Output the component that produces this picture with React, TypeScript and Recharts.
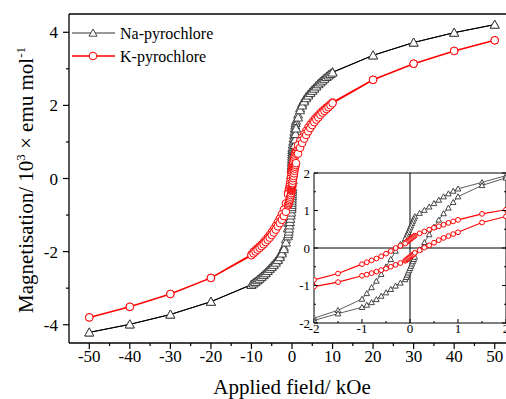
import React from "react";
import { LineChart, Line, XAxis, YAxis, ReferenceLine } from "recharts";

const SERIF = '"Liberation Serif", "Times New Roman", serif';

// field steps of the descending sweep (kOe); the ascending sweep runs back the other way
const fieldDown = [
  50, 40, 30, 20, 10, 9.5, 9, 8.5, 8, 7.5, 7, 6.5, 6, 5.5, 5, 4.5, 4, 3.5, 3, 2.5, 2, 1.5,
  1, 0.9, 0.8, 0.7, 0.6, 0.5, 0.4, 0.3, 0.2, 0.1, 0.08, 0.06, 0.04, 0.02, 0, -0.02, -0.04,
  -0.06, -0.08, -0.1, -0.2, -0.3, -0.4, -0.5, -0.6, -0.7, -0.8, -0.9, -1, -1.5, -2, -2.5,
  -3, -3.5, -4, -4.5, -5, -5.5, -6, -6.5, -7, -7.5, -8, -8.5, -9, -9.5, -10, -20, -30, -40, -50,
];
const fieldUp = [...fieldDown].reverse();

// magnetisation, 10^3 emu/mol
const naDown = [
  4.21, 3.99, 3.72, 3.37, 2.91, 2.87, 2.83, 2.78, 2.74, 2.69, 2.64, 2.59, 2.53, 2.47, 2.42, 2.36, 2.3, 2.23, 2.15, 2.05, 1.93, 1.75,
  1.58, 1.52, 1.45, 1.37, 1.28, 1.19, 1.1, 1.01, 0.93, 0.84, 0.78, 0.72, 0.66, 0.6, 0.54, 0.48, 0.42,
  0.36, 0.31, 0.25, 0.1, -0.08, -0.3, -0.5, -0.7, -0.88, -1.05, -1.21, -1.36, -1.66, -1.87, -2.0,
  -2.11, -2.2, -2.27, -2.34, -2.4, -2.46, -2.52, -2.58, -2.63, -2.68, -2.73, -2.78, -2.82, -2.86, -2.9, -3.37, -3.72, -3.99, -4.21,
];
const naUp = [
  -4.21, -3.99, -3.72, -3.37, -2.91, -2.87, -2.83, -2.78, -2.74, -2.69, -2.64, -2.59, -2.53, -2.47, -2.42, -2.36, -2.3, -2.23, -2.15, -2.05, -1.93, -1.75,
  -1.58, -1.52, -1.45, -1.37, -1.28, -1.19, -1.1, -1.01, -0.93, -0.84, -0.78, -0.72, -0.66, -0.6, -0.54, -0.48, -0.42,
  -0.36, -0.3, -0.24, -0.04, 0.15, 0.36, 0.56, 0.75, 0.92, 1.07, 1.22, 1.37, 1.67, 1.87, 2.0,
  2.11, 2.2, 2.27, 2.34, 2.4, 2.46, 2.52, 2.58, 2.63, 2.68, 2.73, 2.78, 2.82, 2.86, 2.9, 3.37, 3.72, 3.99, 4.21,
];
const kDown = [
  3.78, 3.49, 3.14, 2.7, 2.08, 2.03, 1.98, 1.94, 1.89, 1.84, 1.79, 1.73, 1.67, 1.61, 1.54, 1.47, 1.39, 1.3, 1.21, 1.12, 1.02, 0.91,
  0.75, 0.71, 0.67, 0.62, 0.58, 0.54, 0.49, 0.44, 0.39, 0.33, 0.31, 0.29, 0.27, 0.25, 0.23, 0.21, 0.19,
  0.17, 0.15, 0.12, 0.06, 0.0, -0.08, -0.15, -0.22, -0.28, -0.33, -0.38, -0.43, -0.68, -0.85, -0.98,
  -1.1, -1.2, -1.3, -1.39, -1.47, -1.55, -1.62, -1.68, -1.75, -1.81, -1.86, -1.91, -1.96, -2.01, -2.08, -2.72, -3.16, -3.51, -3.8,
];
const kUp = [
  -3.8, -3.51, -3.16, -2.72, -2.1, -2.05, -2.0, -1.95, -1.9, -1.85, -1.8, -1.74, -1.68, -1.62, -1.55, -1.48, -1.4, -1.31, -1.22, -1.13, -1.03, -0.91,
  -0.74, -0.71, -0.67, -0.63, -0.59, -0.55, -0.5, -0.45, -0.4, -0.34, -0.32, -0.3, -0.28, -0.26, -0.24, -0.22, -0.2,
  -0.18, -0.16, -0.13, -0.06, 0.01, 0.07, 0.14, 0.21, 0.27, 0.32, 0.37, 0.42, 0.68, 0.84, 0.97,
  1.09, 1.19, 1.29, 1.38, 1.46, 1.54, 1.61, 1.67, 1.74, 1.8, 1.85, 1.9, 1.95, 2.0, 2.06, 2.7, 3.14, 3.49, 3.78,
];

const mainXMajor = [-50, -40, -30, -20, -10, 0, 10, 20, 30, 40, 50];
const mainXMinor = [-45, -35, -25, -15, -5, 5, 15, 25, 35, 45];
const mainYMajor = [-4, -2, 0, 2, 4];
const mainYMinor = [-3, -1, 1, 3];
const insetMajor = [-2, -1, 0, 1, 2];
const insetMinor = [-1.5, -0.5, 0.5, 1.5];

const mainXTicks = [...mainXMajor, ...mainXMinor].sort((a, b) => a - b);
const mainYTicks = [...mainYMajor, ...mainYMinor].sort((a, b) => a - b);
const insetTicks = [...insetMajor, ...insetMinor].sort((a, b) => a - b);

function loop(down: number[], up: number[]) {
  return [
    ...fieldDown.map((h, i) => ({ h, m: down[i] })),
    ...fieldUp.map((h, i) => ({ h, m: up[i] })),
  ];
}
const naLoop = loop(naDown, naUp);
const kLoop = loop(kDown, kUp);
const naInset = naLoop.filter((d) => Math.abs(d.h) <= 2);
const kInset = kLoop.filter((d) => Math.abs(d.h) <= 2);

const RED = "#ff0000";

function Tri({ cx, cy, s, stroke }: any) {
  if (cx == null || cy == null) return null;
  return (
    <path
      d={`M${cx},${cy - s} L${cx + s},${cy + s * 0.8} L${cx - s},${cy + s * 0.8} Z`}
      fill="#fff"
      stroke={stroke}
      strokeWidth={0.9}
    />
  );
}

function Circ({ cx, cy, r, stroke }: any) {
  if (cx == null || cy == null) return null;
  return <circle cx={cx} cy={cy} r={r} fill="#fff" stroke={stroke} strokeWidth={1} />;
}

// ---- main axes ticks ----
const MainBottomTick = ({ x, y, payload }: any) => {
  const major = mainXMajor.includes(payload.value);
  return (
    <g>
      <line x1={x} x2={x} y1={y} y2={y + (major ? 6 : 3)} stroke="#000" strokeWidth={1.2} />
      {major && (
        <text x={x} y={y + 19} textAnchor="middle" fontSize={17} fontFamily={SERIF} fill="#000">
          {payload.value}
        </text>
      )}
    </g>
  );
};

const MainTopTick = ({ x, y, payload }: any) => {
  const major = mainXMajor.includes(payload.value);
  return <line x1={x} x2={x} y1={y} y2={y + (major ? 6 : 3)} stroke="#000" strokeWidth={1.2} />;
};

const MainLeftTick = ({ x, y, payload }: any) => {
  const major = mainYMajor.includes(payload.value);
  return (
    <g>
      <line x1={x - (major ? 6 : 3)} x2={x} y1={y} y2={y} stroke="#000" strokeWidth={1.2} />
      {major && (
        <text x={x - 11} y={y + 6} textAnchor="end" fontSize={17} fontFamily={SERIF} fill="#000">
          {payload.value}
        </text>
      )}
    </g>
  );
};

// ---- inset ticks (all pointing inwards) ----
const InsetBottomTick = ({ x, y, payload }: any) => {
  const major = insetMajor.includes(payload.value);
  return (
    <g>
      <line x1={x} x2={x} y1={y} y2={y - (major ? 4 : 2)} stroke="#000" />
      {major && (
        <text x={x} y={y + 10} textAnchor="middle" fontSize={13} fontFamily={SERIF} fill="#000">
          {payload.value}
        </text>
      )}
    </g>
  );
};

const InsetTopTick = ({ x, y, payload }: any) => {
  const major = insetMajor.includes(payload.value);
  return <line x1={x} x2={x} y1={y} y2={y + (major ? 4 : 2)} stroke="#000" />;
};

const InsetLeftTick = ({ x, y, payload }: any) => {
  const major = insetMajor.includes(payload.value);
  return (
    <g>
      <line x1={x} x2={x + (major ? 4 : 2)} y1={y} y2={y} stroke="#000" />
      {major && (
        <text x={x - 4} y={y + 4.5} textAnchor="end" fontSize={13} fontFamily={SERIF} fill="#000">
          {payload.value}
        </text>
      )}
    </g>
  );
};

const InsetRightTick = ({ x, y, payload }: any) => {
  const major = insetMajor.includes(payload.value);
  return <line x1={x - (major ? 4 : 2)} x2={x} y1={y} y2={y} stroke="#000" />;
};

const YTitle = () => (
  <text transform="translate(33,180) rotate(-90)" textAnchor="middle" fontSize={21} fontFamily={SERIF} fill="#000">
    Magnetisation/ 10
    <tspan dy={-8} fontSize={13}>3</tspan>
    <tspan dy={8}> × emu mol</tspan>
    <tspan dy={-8} fontSize={13}>-1</tspan>
  </text>
);

const XTitle = () => (
  <text x={292} y={394} textAnchor="middle" fontSize={21} fontFamily={SERIF} fill="#000">
    Applied field/ kOe
  </text>
);

const axisStroke = { stroke: "#000", strokeWidth: 1.3 };

export default function App() {
  return (
    <div style={{ position: "absolute", left: 0, top: 0, width: 506, height: 399, overflow: "hidden", background: "#fff" }}>
      <div style={{ position: "absolute", left: 0, top: 0 }}>
        <LineChart width={520} height={399} margin={{ top: 4, right: 5, bottom: 0, left: 0 }}>
          <XAxis
            xAxisId="b"
            dataKey="h"
            type="number"
            domain={[-55, 55]}
            allowDataOverflow
            ticks={mainXTicks}
            interval={0}
            height={56}
            tickSize={0}
            tickMargin={0}
            tickLine={false}
            axisLine={axisStroke}
            tick={<MainBottomTick />}
            label={<XTitle />}
          />
          <XAxis
            xAxisId="t"
            orientation="top"
            type="number"
            domain={[-55, 55]}
            allowDataOverflow
            ticks={mainXTicks}
            interval={0}
            height={10}
            tickSize={0}
            tickMargin={0}
            tickLine={false}
            axisLine={axisStroke}
            tick={<MainTopTick />}
          />
          <YAxis
            yAxisId="l"
            type="number"
            domain={[-4.5, 4.5]}
            allowDataOverflow
            ticks={mainYTicks}
            interval={0}
            width={69}
            tickSize={0}
            tickMargin={0}
            tickLine={false}
            axisLine={axisStroke}
            tick={<MainLeftTick />}
            label={<YTitle />}
          />
          <Line
            xAxisId="b"
            yAxisId="l"
            data={naLoop}
            dataKey="m"
            stroke="#000"
            strokeWidth={1}
            isAnimationActive={false}
            activeDot={false}
            dot={(p: any) => <Tri key={`na${p.index}`} cx={p.cx} cy={p.cy} s={4.5} stroke="#333" />}
          />
          <Line
            xAxisId="b"
            yAxisId="l"
            data={kLoop}
            dataKey="m"
            stroke={RED}
            strokeWidth={1.5}
            isAnimationActive={false}
            activeDot={false}
            dot={(p: any) => <Circ key={`k${p.index}`} cx={p.cx} cy={p.cy} r={3.8} stroke={RED} />}
          />
        </LineChart>
      </div>

      <svg style={{ position: "absolute", left: 0, top: 0 }} width={506} height={80}>
        <line x1={72} x2={115} y1={33} y2={33} stroke="#333" strokeWidth={1} />
        <Tri cx={93} cy={33} s={4} stroke="#333" />
        <text x={120} y={38.5} fontSize={16} fontFamily={SERIF} fill="#000">Na-pyrochlore</text>
        <line x1={72} x2={115} y1={56} y2={56} stroke={RED} strokeWidth={1.5} />
        <Circ cx={93} cy={56} r={3.8} stroke={RED} />
        <text x={120} y={61.5} fontSize={16} fontFamily={SERIF} fill="#000">K-pyrochlore</text>
      </svg>

      <div style={{ position: "absolute", left: 294, top: 160 }}>
        <LineChart width={222} height={179} margin={{ top: 12, right: 9, bottom: 0, left: 0 }}>
          <XAxis
            xAxisId="b"
            dataKey="h"
            type="number"
            domain={[-2, 2]}
            allowDataOverflow
            ticks={insetTicks}
            interval={0}
            height={16}
            tickSize={0}
            tickMargin={0}
            tickLine={false}
            axisLine={{ stroke: "#000" }}
            tick={<InsetBottomTick />}
          />
          <XAxis
            xAxisId="t"
            orientation="top"
            type="number"
            domain={[-2, 2]}
            allowDataOverflow
            ticks={insetTicks}
            interval={0}
            height={1}
            tickSize={0}
            tickMargin={0}
            tickLine={false}
            axisLine={{ stroke: "#000" }}
            tick={<InsetTopTick />}
          />
          <YAxis
            yAxisId="l"
            type="number"
            domain={[-2, 2]}
            allowDataOverflow
            ticks={insetTicks}
            interval={0}
            width={20}
            tickSize={0}
            tickMargin={0}
            tickLine={false}
            axisLine={{ stroke: "#000" }}
            tick={<InsetLeftTick />}
          />
          <YAxis
            yAxisId="r"
            orientation="right"
            type="number"
            domain={[-2, 2]}
            allowDataOverflow
            ticks={insetTicks}
            interval={0}
            width={1}
            tickSize={0}
            tickMargin={0}
            tickLine={false}
            axisLine={{ stroke: "#000" }}
            tick={<InsetRightTick />}
          />
          <ReferenceLine xAxisId="b" yAxisId="l" x={0} stroke="#000" strokeWidth={1} />
          <ReferenceLine xAxisId="b" yAxisId="l" y={0} stroke="#000" strokeWidth={1} />
          <Line
            xAxisId="b"
            yAxisId="l"
            data={naInset}
            dataKey="m"
            stroke="#333"
            strokeWidth={0.8}
            isAnimationActive={false}
            activeDot={false}
            dot={(p: any) => <Tri key={`ni${p.index}`} cx={p.cx} cy={p.cy} s={2.8} stroke="#333" />}
          />
          <Line
            xAxisId="b"
            yAxisId="l"
            data={kInset}
            dataKey="m"
            stroke={RED}
            strokeWidth={1.1}
            isAnimationActive={false}
            activeDot={false}
            dot={(p: any) => <Circ key={`ki${p.index}`} cx={p.cx} cy={p.cy} r={2.4} stroke={RED} />}
          />
        </LineChart>
      </div>
    </div>
  );
}
